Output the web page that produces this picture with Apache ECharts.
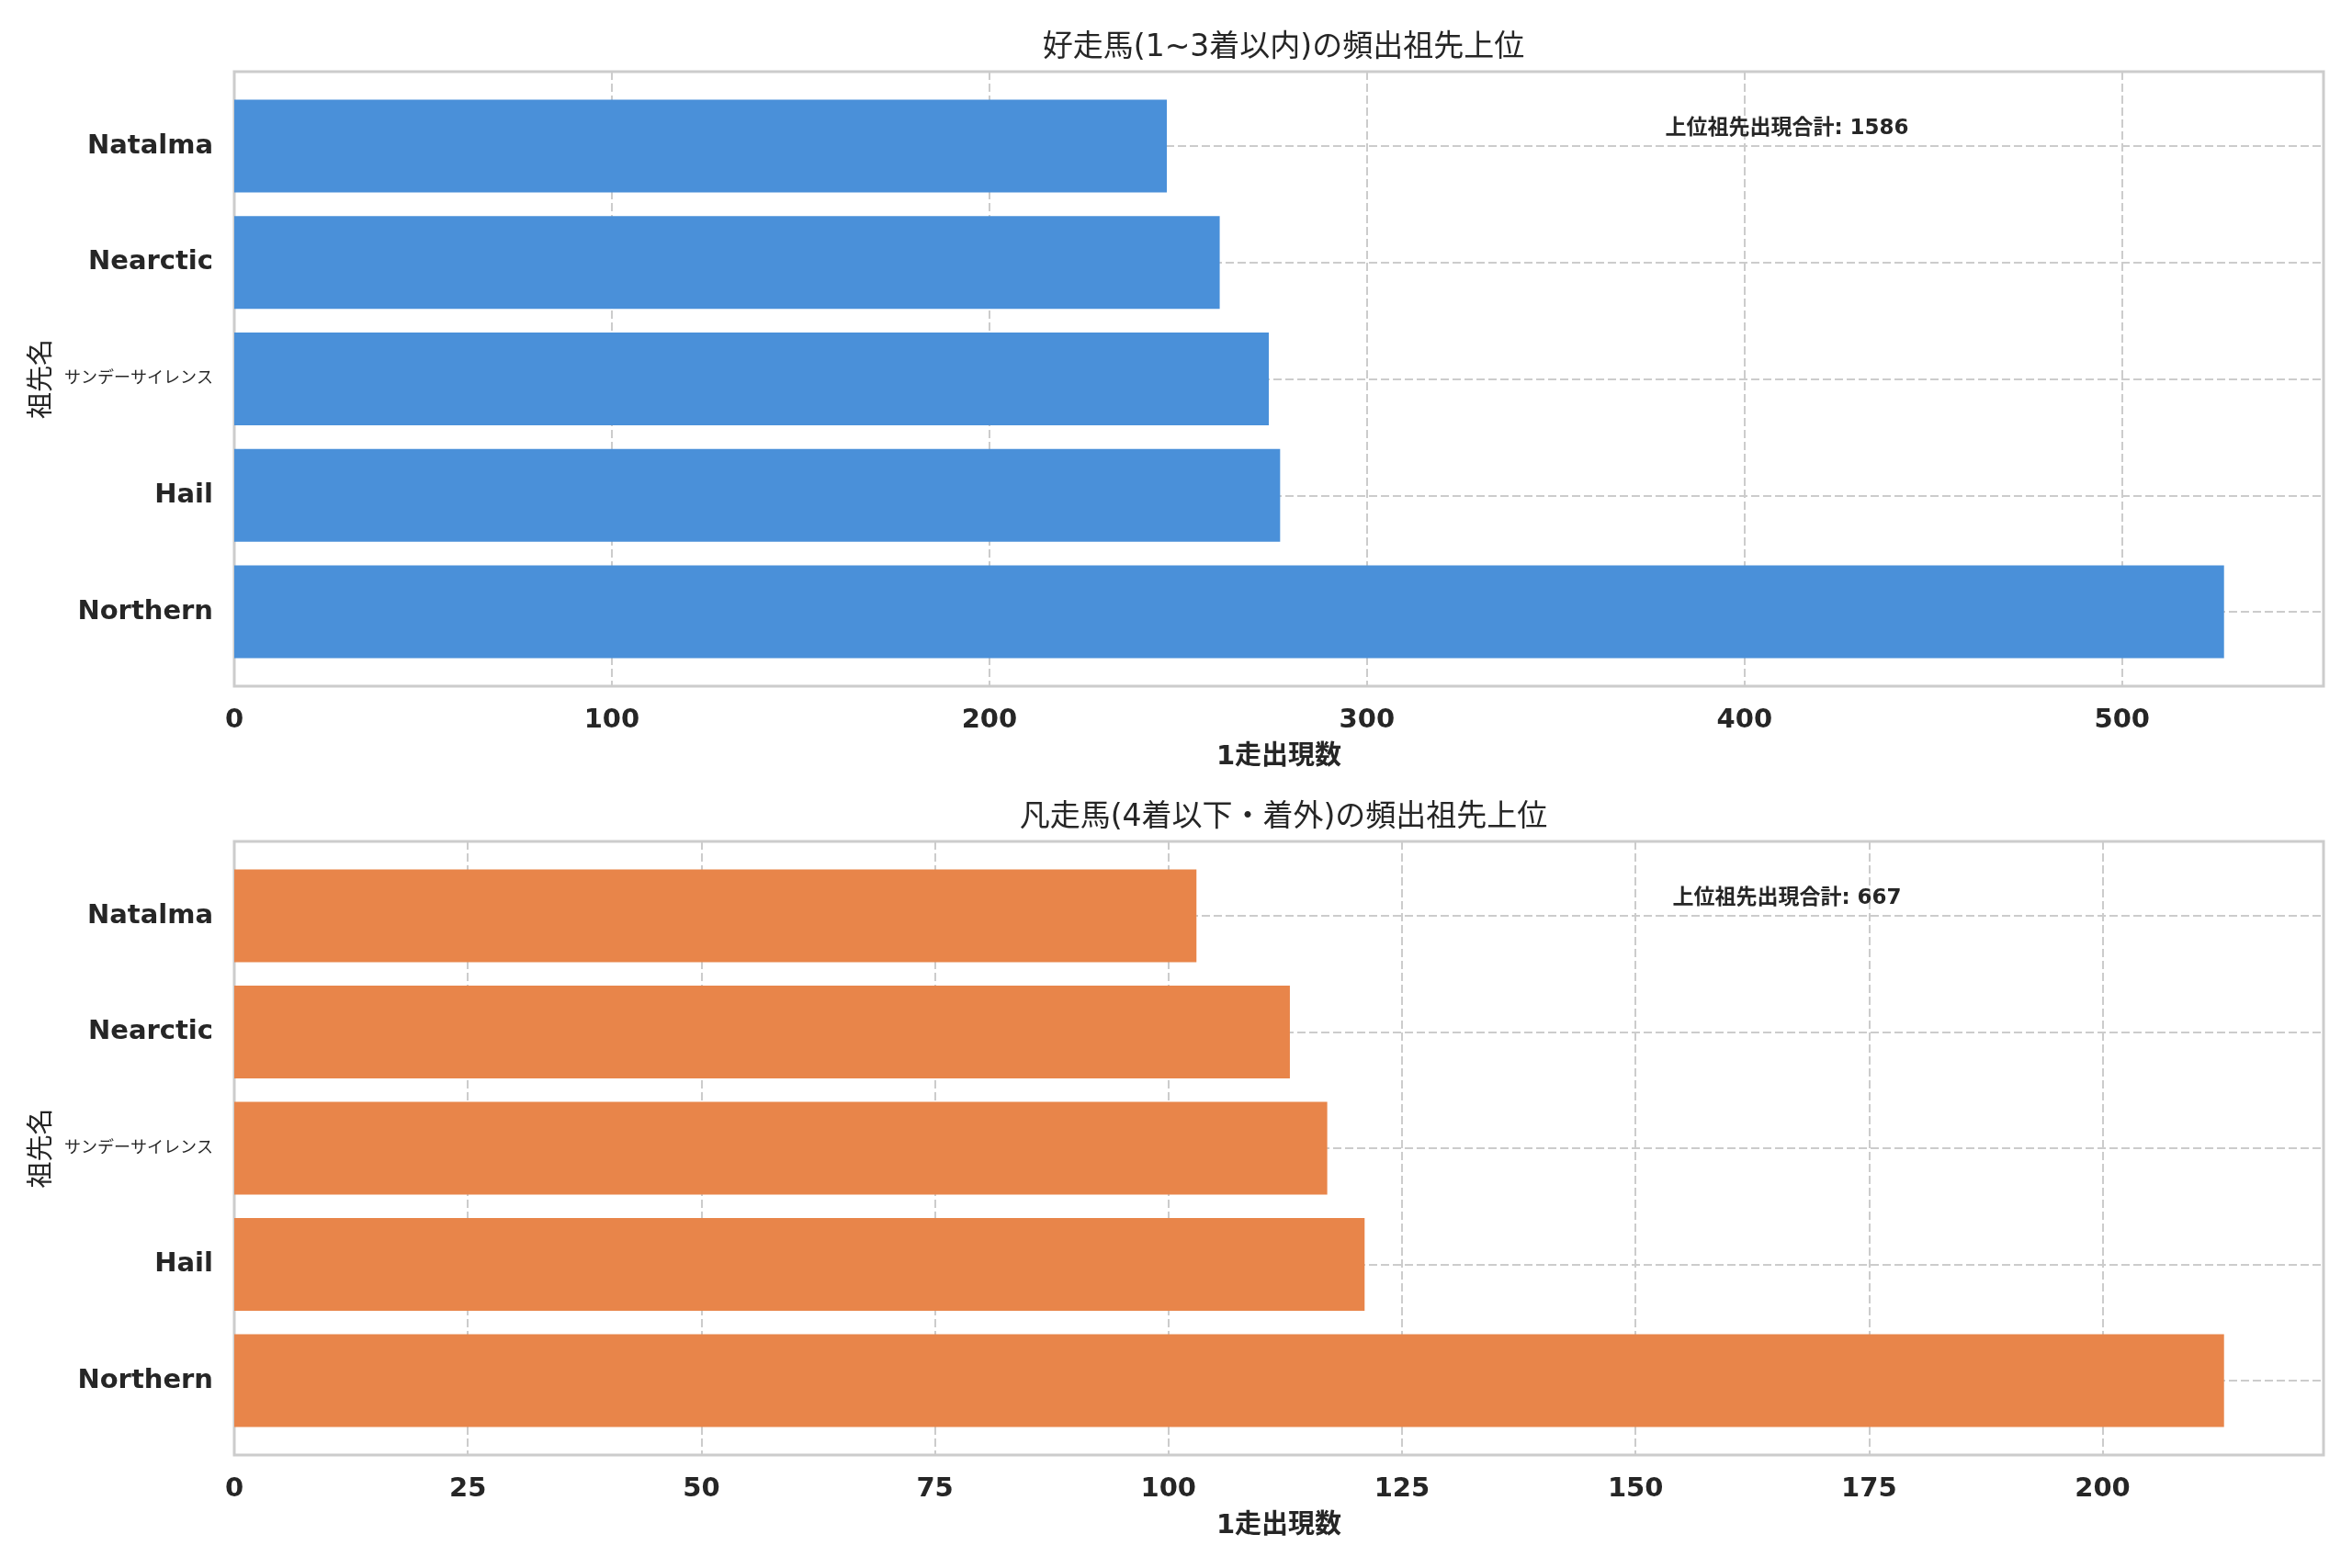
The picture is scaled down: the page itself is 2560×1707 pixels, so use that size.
<!DOCTYPE html>
<html>
<head>
<meta charset="utf-8">
<script src="https://cdn.jsdelivr.net/npm/echarts@6/dist/echarts.min.js"></script>
<style>
  html, body { margin: 0; padding: 0; background: #ffffff; }
  #chart { width: 2560px; height: 1707px; }
</style>
</head>
<body>
<div id="chart"></div>
<script>
// data (bottom to top, as on the axis)
var categories = ["Northern", "Hail", "サンデーサイレンス", "Nearctic", "Natalma"];
var topValues = [527, 277, 274, 261, 247];
var bottomValues = [213, 121, 117, 113, 103];
var topTitle = "好走馬(1~3着以内)の頻出祖先上位";
var bottomTitle = "凡走馬(4着以下・着外)の頻出祖先上位";
var totalLabel = "上位祖先出現合計";
var xName = "1走出現数";
var yName = "祖先名";
var topStep = 100;
var bottomStep = 25;

var chartDom = document.getElementById("chart");
var myChart = echarts.init(chartDom);

var font = "DejaVu Sans, Noto Sans CJK JP, sans-serif";
var textColor = "#262626";
var gridLine = { color: "#cccccc", width: 2, type: [9, 4] };

var sum = function (arr) {
  return arr.reduce(function (a, b) { return a + b; }, 0);
};

// non-latin names get a narrower style so they fit left of the axis
var catLabel = function (v) {
  return /[^\x00-\x7f]/.test(v) ? "{cjk|" + v + "}" : v;
};

// frame grid = full axes box, data grid = category centres
var panels = [
  { frameTop: 78, frameH: 669, dataTop: 159, dataH: 507, values: topValues, step: topStep, color: "#4a90d9", title: topTitle },
  { frameTop: 916, frameH: 668, dataTop: 997, dataH: 506, values: bottomValues, step: bottomStep, color: "#e8854a", title: bottomTitle }
];

var option = {
  backgroundColor: "#ffffff",
  animation: false,
  title: [],
  grid: [],
  xAxis: [],
  yAxis: [],
  series: []
};

panels.forEach(function (p, i) {
  var xMax = Math.max.apply(null, p.values) * 1.05;
  var fg = i * 2;
  var dg = i * 2 + 1;

  option.title.push({
    text: p.title,
    left: 1392,
    top: p.frameTop - 47,
    textAlign: "center",
    textStyle: { fontFamily: font, fontSize: 33, fontWeight: "normal", color: textColor }
  });
  option.title.push({
    text: totalLabel + ": " + sum(p.values),
    left: 1940,
    top: p.frameTop + 46,
    textAlign: "center",
    textStyle: { fontFamily: font, fontSize: 23, fontWeight: "bold", color: textColor }
  });

  option.grid.push({
    left: 255, right: 31, top: p.frameTop, height: p.frameH,
    containLabel: false, outerBoundsMode: "none",
    show: true, borderColor: "#cccccc", borderWidth: 3, backgroundColor: "transparent"
  });
  option.grid.push({
    left: 255, right: 31, top: p.dataTop, height: p.dataH,
    containLabel: false, outerBoundsMode: "none"
  });

  option.xAxis.push({
    type: "value", gridIndex: fg, min: 0, max: xMax, interval: p.step,
    axisLine: { show: false }, axisTick: { show: false },
    splitLine: { show: true, lineStyle: gridLine },
    axisLabel: {
      showMaxLabel: false, margin: 23,
      fontFamily: font, fontSize: 29, fontWeight: "bold", color: textColor
    },
    name: xName, nameLocation: "middle", nameGap: 63,
    nameTextStyle: { fontFamily: font, fontSize: 29, fontWeight: "bold", color: textColor }
  });
  option.xAxis.push({
    type: "value", gridIndex: dg, min: 0, max: xMax, show: false
  });

  option.yAxis.push({ type: "value", gridIndex: fg, show: false });
  option.yAxis.push({
    type: "category", gridIndex: dg, data: categories, boundaryGap: false,
    axisLine: { show: false }, axisTick: { show: false },
    splitLine: { show: true, lineStyle: gridLine },
    axisLabel: {
      margin: 23, fontFamily: font, fontSize: 29, fontWeight: "bold", color: textColor,
      formatter: catLabel,
      rich: { cjk: { fontFamily: font, fontSize: 18, fontWeight: "normal", color: textColor } }
    },
    name: yName, nameLocation: "middle", nameGap: 194, nameRotate: 90, nameMoveOverlap: false,
    nameTextStyle: { fontFamily: font, fontSize: 29, fontWeight: "normal", color: textColor }
  });

  option.series.push({
    type: "bar", xAxisIndex: dg, yAxisIndex: dg,
    data: p.values, barWidth: 101, clip: false,
    itemStyle: { color: p.color },
    z: 3
  });
});

option && myChart.setOption(option);
</script>
</body>
</html>
